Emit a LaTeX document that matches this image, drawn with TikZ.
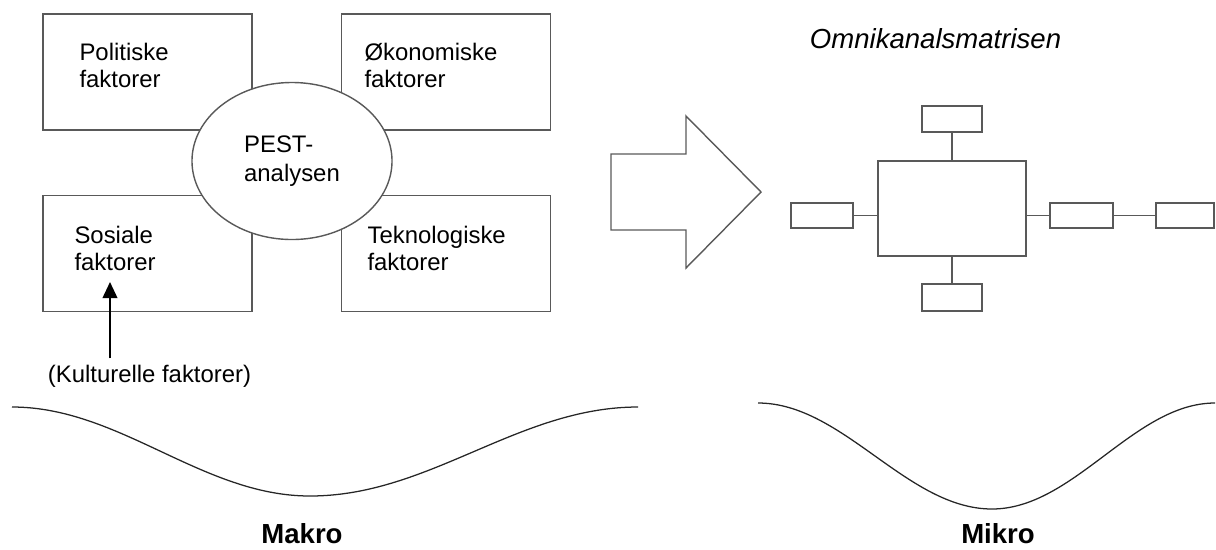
\documentclass[tikz,border=0pt]{standalone}
\usepackage{fontspec}
\setmainfont{Liberation Sans}
\usetikzlibrary{positioning,calc,shapes.geometric,arrows.meta}

\begin{document}
\begin{tikzpicture}[x=0.025cm,y=-0.025cm,
  factorbox/.style={draw=black!65, line width=1pt, minimum width=5.225cm, minimum height=2.9cm, inner sep=0},
  factortext/.style={anchor=north west, inner sep=0, align=left, font=\fontsize{17pt}{19.2pt}\selectfont},
  smallbox/.style={draw=black!65, line width=1pt, inner sep=0, minimum width=1.5cm, minimum height=0.65cm},
  link/.style={draw=black!65, line width=1pt},
  wave/.style={black!85, line width=0.9pt},
  bigtitle/.style={anchor=base, inner sep=1pt, font=\fontsize{19.6pt}{23pt}\selectfont}]

\useasboundingbox (0,0) rectangle (1216,549);

% PEST
\node[factorbox] (pol) at (147.5,72) {};
\node[factorbox] (oko) at (446,72) {};
\node[factorbox] (sos) at (147.5,253.5) {};
\node[factorbox] (tek) at (446,253.5) {};
\node[factortext] (poltext) at ($(pol.north west)+(37,29.5)$) {Politiske\\faktorer};
\node[factortext] (okotext) at ($(oko.north west)+(23.5,29.5)$) {Økonomiske\\faktorer};
\node[factortext] (sostext) at ($(sos.north west)+(32,31)$) {Sosiale\\faktorer};
\node[factortext] (tektext) at ($(tek.north west)+(26.5,31)$) {Teknologiske\\faktorer};
\node[ellipse, draw=black!65, line width=1pt, fill=white, minimum width=5cm, minimum height=3.925cm,
      inner sep=0, align=left, font=\fontsize{17pt}{20.5pt}\selectfont] (pest) at (292,161) {PEST-\\analysen};

\node[anchor=base, inner sep=0.15cm, font=\fontsize{17pt}{19.2pt}\selectfont] (kult) at (149.5,382) {(Kulturelle faktorer)};
\coordinate (kulttip) at (110,282);
\draw[line width=1.4pt, -{Triangle[length=11.5pt, width=10.5pt]}] (kult.north -| kulttip) -- (kulttip);

% block arrow
\coordinate (A) at (611,154);
\coordinate (B) at (686,154);
\coordinate (C) at (686,116);
\coordinate (D) at (761,192);
\coordinate (E) at (686,268);
\coordinate (F) at (686,230);
\coordinate (G) at (611,230);
\draw[draw=black!65, line width=1pt] (A) -- (B) -- (C) -- (D) -- (E) -- (F) -- (G) -- cycle;

% omnikanal
\node[bigtitle, font=\fontsize{19.6pt}{23pt}\selectfont\itshape] (omni) at (935.5,48) {Omnikanalsmatrisen};
\node[smallbox, minimum width=3.7cm, minimum height=2.375cm] (mat) at (952,208.5) {};
\node[smallbox] (top) at (952,119) {};
\node[smallbox, minimum height=0.675cm] (bot) at (952,297.5) {};
\node[smallbox, minimum width=1.55cm, minimum height=0.625cm] (lft) at (822,215.5) {};
\node[smallbox, minimum width=1.575cm, minimum height=0.625cm] (rgt) at (1081.5,215.5) {};
\node[smallbox, minimum width=1.45cm, minimum height=0.625cm] (far) at (1185,215.5) {};
\draw[link] (top) -- (mat);
\draw[link] (mat) -- (bot);
\draw[link] (lft.east) -- (lft.east -| mat.west);
\draw[link] (rgt.west -| mat.east) -- (rgt.west);
\draw[link] (rgt) -- (far);

% waves
\draw[wave] (12,407) .. controls (120,407) and (202,496) .. (310,496)
            .. controls (430,496) and (518,407) .. (638,407);
\draw[wave] (758,403) .. controls (843,403) and (907,509) .. (992,509)
            .. controls (1074,509) and (1134,403) .. (1215,403);
\node[bigtitle, font=\fontsize{19.6pt}{23pt}\selectfont\bfseries] (makro) at (302,543) {Makro};
\node[bigtitle, font=\fontsize{19.6pt}{23pt}\selectfont\bfseries] (mikro) at (998,543) {Mikro};

\end{tikzpicture}
\end{document}
